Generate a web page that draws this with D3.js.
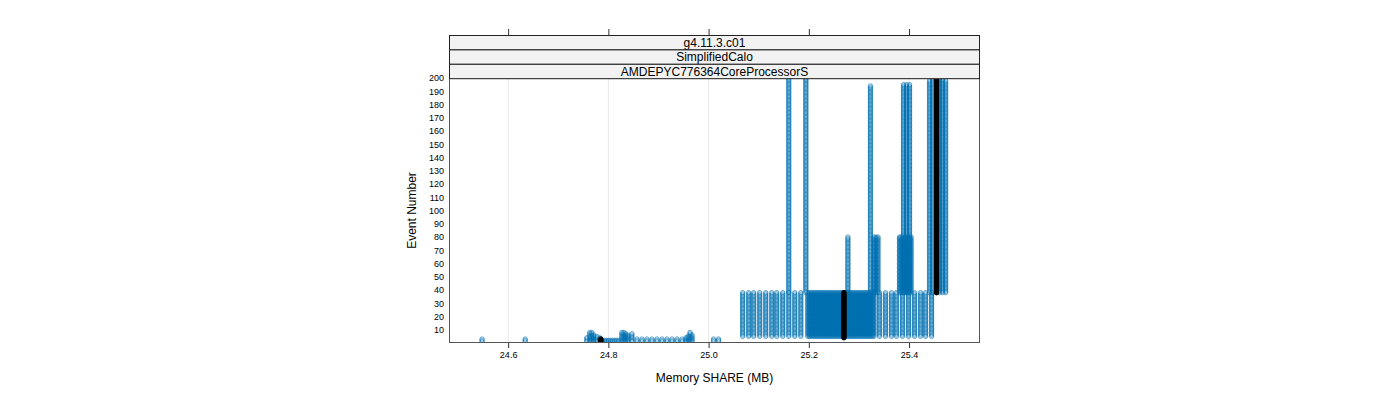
<!DOCTYPE html>
<html><head><meta charset="utf-8">
<script src="https://cdn.jsdelivr.net/npm/d3@7"></script>
<style>body{margin:0;background:#fff}svg{display:block;font-family:"Liberation Sans",Arial,sans-serif}</style>
</head><body><svg id="c" width="1400" height="400"></svg>
<script>
// ---- data ----
const stripLabels = ["g4.11.3.c01", "SimplifiedCalo", "AMDEPYC776364CoreProcessorS"];
const xTicks = [24.6, 24.8, 25.0, 25.2, 25.4];
const yTicks = [10,20,30,40,50,60,70,80,90,100,110,120,130,140,150,160,170,180,190,200];
// early events (from event 1) : memory, last event
const lowMem = [24.548,24.634,24.757,24.763,24.767,24.771,24.777,24.783,
  24.789,24.793,24.797,24.801,24.805,24.809,24.813,24.817,24.821,
  24.827,24.831,24.835,24.839,24.847,
  24.857,24.867,24.877,24.887,24.897,24.907,24.917,24.927,24.937,24.947,
  24.955,24.959,24.963,24.967,25.010,25.020];
const lowEnd = [3,3,4,8,8,6,5,4,
  2,2,2,2,2,2,2,2,2,
  8,8,7,6,7,
  3,3,3,3,3,3,3,3,3,3,
  4,5,8,6,3,3];
// middle events (from event 5 to 38) : memory
const midMem = [25.068,25.080,25.090,25.102,25.114,25.126,25.136,25.148,25.160,25.172,25.184,
  25.198,25.201,25.204,25.207,25.210,25.213,25.216,25.219,25.222,25.225,25.228,25.231,25.234,
  25.237,25.240,25.243,25.246,25.249,25.252,25.255,25.258,25.261,25.264,25.267,25.273,25.276,
  25.279,25.282,25.285,25.288,25.291,25.294,25.297,25.300,25.303,25.306,25.309,25.312,25.315,
  25.318,25.321,25.324,25.327,25.330,
  25.341,25.353,25.365,25.375,25.387,25.399,25.411,25.423,25.433,25.445];
const midStart = 5, midEnd = 38;
// late events (from event 38) : memory, last event
const highMem = [25.160,25.194,25.278,25.323,25.330,25.334,25.338,
  25.381,25.384,25.388,25.392,25.396,25.400,25.404,25.389,25.395,25.401,
  25.441,25.447,25.461,25.467,25.473];
const highEnd = [200,200,80,194,80,80,80,
  80,80,80,80,80,80,80,195,195,195,
  198,200,200,199,198];
const highStart = 38;
// reference run (black)
const refMem = [24.785, 25.270, 25.455];
const refStart = [1, 4, 38];
const refEnd = [3, 38, 200];

// ---- build points ----
const blue = [];
lowMem.forEach((m,i)=>d3.range(1, lowEnd[i]+1).forEach(e=>blue.push({x:m,y:e})));
midMem.forEach(m=>d3.range(midStart, midEnd+1).forEach(e=>blue.push({x:m,y:e})));
highMem.forEach((m,i)=>d3.range(highStart, highEnd[i]+1).forEach(e=>blue.push({x:m,y:e})));
const black = [];
refMem.forEach((m,i)=>d3.range(refStart[i], refEnd[i]+1).forEach(e=>black.push({x:m,y:e})));

// ---- layout ----
const svg = d3.select("#c");
const L=449, R=980, T=78, B=343;
const x = d3.scaleLinear().domain([24.482, 25.5416]).range([L, R]);
const y = d3.scaleLinear().domain([0, 200]).range([B, T]);

svg.append("defs").append("clipPath").attr("id","pc")
  .append("rect").attr("x",L).attr("y",T).attr("width",R-L).attr("height",B-T);

// grid
svg.append("g").selectAll("line").data(xTicks).join("line")
  .attr("x1",d=>x(d)).attr("x2",d=>x(d)).attr("y1",T).attr("y2",B)
  .attr("stroke","#e8e8e8").attr("stroke-width",1);

// points
const pg = svg.append("g").attr("clip-path","url(#pc)");
pg.selectAll("circle.b").data(blue).join("circle").attr("class","b")
  .attr("cx",d=>x(d.x)).attr("cy",d=>y(d.y)).attr("r",2.2)
  .attr("fill","none").attr("stroke","#0070b0").attr("stroke-opacity",0.6).attr("stroke-width",1);
pg.selectAll("circle.k").data(black).join("circle").attr("class","k")
  .attr("cx",d=>x(d.x)).attr("cy",d=>y(d.y)).attr("r",2.3)
  .attr("fill","#000").attr("stroke","#000").attr("stroke-width",1);

// panel box
svg.append("rect").attr("x",L+0.5).attr("y",T+0.5).attr("width",R-L-1).attr("height",B-T-1)
  .attr("fill","none").attr("stroke","#555");

// strips
const stripTop = 35, stripH = 14.4;
stripLabels.forEach((s,i)=>{
  const y0 = stripTop + i*stripH;
  svg.append("rect").attr("x",L+0.5).attr("y",y0+0.5).attr("width",R-L-1).attr("height",stripH)
    .attr("fill","#f2f2f2").attr("stroke","#222");
  svg.append("text").attr("x",(L+R)/2).attr("y",y0+stripH/2+0.5).attr("text-anchor","middle")
    .attr("dominant-baseline","central").attr("font-size",12).attr("fill","#000").text(s);
});

// x axis bottom
const xa = d3.axisBottom(x).tickValues(xTicks).tickFormat(d3.format(".1f")).tickSize(5).tickPadding(4);
const gx = svg.append("g").attr("transform",`translate(0,${B})`).call(xa);
gx.select(".domain").remove();
gx.selectAll("line").attr("stroke","#333");
gx.selectAll("text").attr("font-size",9).attr("font-family","Liberation Sans, Arial, sans-serif").attr("fill","#000");
// top ticks
const xt = d3.axisTop(x).tickValues(xTicks).tickFormat("").tickSize(6);
const gt = svg.append("g").attr("transform",`translate(0,${stripTop})`).call(xt);
gt.select(".domain").remove();
gt.selectAll("line").attr("stroke","#333");

// y axis
const ya = d3.axisLeft(y).tickValues(yTicks).tickSize(0).tickPadding(5);
const gy = svg.append("g").attr("transform",`translate(${L},0)`).call(ya);
gy.select(".domain").remove();
gy.selectAll("text").attr("font-size",9).attr("font-family","Liberation Sans, Arial, sans-serif").attr("fill","#000");

// titles
svg.append("text").attr("x",(L+R)/2).attr("y",382).attr("text-anchor","middle")
  .attr("font-size",12).text("Memory SHARE (MB)");
svg.append("text").attr("transform",`translate(416,${(T+B)/2}) rotate(-90)`).attr("text-anchor","middle")
  .attr("font-size",12).text("Event Number");
</script></body></html>
